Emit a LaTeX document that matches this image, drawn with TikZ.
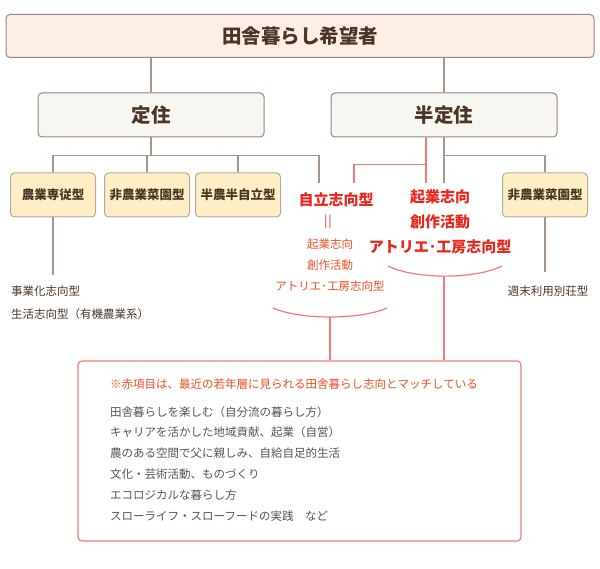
\documentclass[tikz,border=0pt]{standalone}
\usepackage{fontspec}
\setmainfont{Noto Sans CJK JP}
\definecolor{brn}{HTML}{4B3524}
\definecolor{gline}{HTML}{A8968A}
\definecolor{rline}{HTML}{F27B7B}
\definecolor{rtext}{HTML}{E8261B}
\definecolor{otext}{HTML}{EE4E24}
\definecolor{gtext}{HTML}{555555}
\definecolor{topfill}{HTML}{FDEEE6}
\definecolor{midfill}{HTML}{F8F6F1}
\definecolor{lowfill}{HTML}{FCEFC6}
\begin{document}
\begin{tikzpicture}[x=1pt,y=-1pt,
  topbox/.style={draw=gline!90!black, line width=1pt, fill=topfill, rounded corners=4pt, minimum width=588pt, minimum height=43pt, text=brn, font=\fontsize{19.5}{22}\selectfont\bfseries},
  midbox/.style={draw=gline!90!black, line width=1pt, fill=midfill, rounded corners=4pt, minimum width=226pt, minimum height=44pt, text=brn, font=\fontsize{19.5}{22}\selectfont\bfseries},
  lowbox/.style={draw=gline!80!lowfill, line width=1pt, fill=lowfill, rounded corners=4pt, minimum width=85pt, minimum height=44pt, text=brn, inner sep=1pt, font=\fontsize{12.5}{15}\selectfont\bfseries},
  gl/.style={draw=gline, line width=1.2pt},
  rl/.style={draw=rline, line width=1.2pt},
  redbig/.style={text=rtext, font=\fontsize{15}{18}\selectfont\bfseries, inner sep=0pt},
  redsmall/.style={text=otext, font=\fontsize{11.5}{14}\selectfont, inner sep=0pt},
  plain/.style={text=brn, font=\fontsize{11.5}{14}\selectfont, inner sep=0pt},
  notetxt/.style={text=gtext, font=\fontsize{11.5}{14}\selectfont, inner sep=0pt, anchor=west},
]
\useasboundingbox (0,0) rectangle (600,569);

\node[topbox] (top) at (300,36) {田舎暮らし希望者};
\node[midbox] (teiju) at (151,115) {定住};
\node[midbox] (hanteiju) at (444,115) {半定住};

\node[lowbox] (nogyo) at (53,195) {農業専従型};
\node[lowbox] (hinogyo) at (147,195) {非農業菜園型};
\node[lowbox] (hanno) at (238,195) {半農半自立型};
\node[lowbox] (hinogyo2) at (545,195) {非農業菜園型};

% red texts
\node[redbig, minimum height=34pt] (jiritsu) at (336,200) {自立志向型};
\node[text=rline, font=\fontsize{19}{20}\selectfont, inner sep=0pt, rotate=90] (eq) at (330,222) {＝};
\node[redsmall] (s1) at (330,244) {起業志向};
\node[redsmall] (s2) at (330,265) {創作活動};
\node[redsmall] (s3) at (330,286) {アトリエ･工房志向型};

\node[redbig, minimum height=28pt] (b1) at (440,197) {起業志向};
\node[redbig] (b2) at (440,222) {創作活動};
\node[redbig] (b3) at (440,247) {アトリエ･工房志向型};

% bottom texts
\node[plain, anchor=west] (l1) at (11,291) {事業化志向型};
\node[plain, anchor=west] (l2) at (11,314) {生活志向型（有機農業系）};
\node[plain] (r1) at (548,291) {週末利用別荘型};

% note box
\node[draw=rline, line width=1.2pt, fill=white, rounded corners=4pt, minimum width=443pt, minimum height=180pt] (note) at (299.5,451) {};
\node[notetxt, text=otext] (n0) at (110,384) {※赤項目は、最近の若年層に見られる田舎暮らし志向とマッチしている};
\node[notetxt] (n1) at (110,412) {田舎暮らしを楽しむ（自分流の暮らし方）};
\node[notetxt] (n2) at (110,432) {キャリアを活かした地域貢献、起業（自営）};
\node[notetxt] (n3) at (110,453) {農のある空間で父に親しみ、自給自足的生活};
\node[notetxt] (n4) at (110,474) {文化・芸術活動、ものづくり};
\node[notetxt] (n5) at (110,495) {エコロジカルな暮らし方};
\node[notetxt] (n6) at (110,516) {スローライフ・スローフードの実践　など};

% gray connectors
\draw[gl] (top.south -| teiju.north) -- (teiju.north);
\draw[gl] (top.south -| hanteiju.north) -- (hanteiju.north);
\draw[gl] (nogyo.north) -- ++(0,-17) -| ([xshift=-17pt]jiritsu.north);
\draw[gl] (teiju.south) -- ++(0,19);
\draw[gl] (hinogyo.north) -- ++(0,-17);
\draw[gl] (hanno.north) -- ++(0,-17);
\draw[gl] (hanteiju.south) -- (hanteiju.south |- b1.north);
\draw[gl] (hanteiju.south) -- ++(0,18) -| (hinogyo2.north);
\draw[gl] (nogyo.south) -- ++(0,58);
\draw[gl] (hinogyo2.south) -- ++(0,55);

% red connectors
\draw[rl] ([xshift=-18pt]hanteiju.south) -- ([xshift=-18pt]hanteiju.south |- b1.north);
\draw[rl] ([xshift=-18pt]hanteiju.south) ++(0,27) -| ([xshift=18pt]jiritsu.north);
\coordinate (la) at (273,308); \coordinate (lb) at (387,308); \coordinate (lm) at (330,317);
\coordinate (ra) at (388,266); \coordinate (rb) at (502,266); \coordinate (rm) at (444,276);
\draw[rl] (la) .. controls (300,320) and (360,320) .. (lb);
\draw[rl] (ra) .. controls (415,279.5) and (475,279.5) .. (rb);
\draw[rl] (lm) -- (lm |- note.north);
\draw[rl] (rm) -- (rm |- note.north);
\end{tikzpicture}
\end{document}
